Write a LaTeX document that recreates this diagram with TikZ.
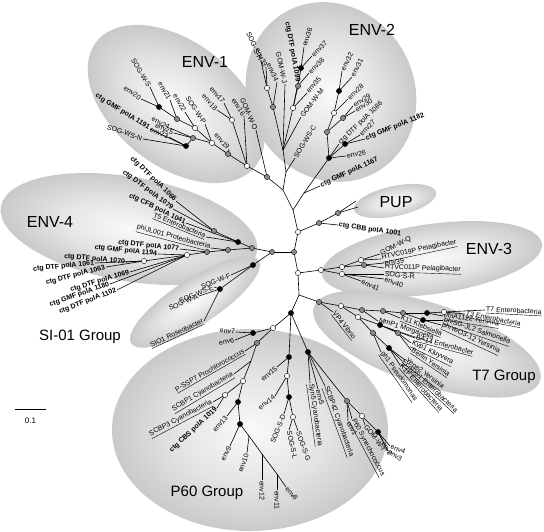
\documentclass[tikz,border=0pt]{standalone}
\usepackage{fontspec}
\setmainfont{Liberation Sans}
\pgfdeclareradialshading{blob}{\pgfpoint{0bp}{0bp}}{color(0bp)=(gray!4); color(14bp)=(gray!22); color(36bp)=(gray!62); color(50bp)=(gray!82); color(70bp)=(gray!82)}
\tikzset{
 br/.style={line width=0.6pt,draw=black},
 lbl/.style={font=\fontsize{7}{8}\selectfont,inner sep=0.8pt},
 wn/.style={circle,draw=black,line width=0.4pt,fill=white,inner sep=0pt,minimum size=5.2pt},
 gn/.style={wn,fill=gray!90},
 bn/.style={wn,fill=black},
 grp/.style={font=\fontsize{16}{18}\selectfont,inner sep=0pt},
 grpb/.style={font=\fontsize{15}{17}\selectfont,inner sep=0pt},
}
\newcommand\lf[6]{\coordinate (#2) at (#3);\draw[br] (#1) -- (#2);\node[lbl,anchor=#4,rotate=#5] (#2-t) at (#2) {#6};}
\newcommand\ed[2]{\draw[br] (#1) -- (#2);}
\newcommand\blob[5]{\begin{scope}[transform canvas={shift={(#1,#2)},rotate=#5}]\shade[shading=blob] (0,0) ellipse [x radius=#3, y radius=#4];\end{scope}}
\newcommand\mk[2]{\node[#1] (m-#2) at (#2) {};}
\begin{document}
\begin{tikzpicture}[x=1pt,y=-1pt]
\useasboundingbox (0,0) rectangle (544,531);
% ---------- group ellipses ----------
\blob{176}{104}{101}{62}{-38}
\blob{331}{92}{92}{83}{-60}
\blob{129}{229}{130}{52}{-10}
\blob{195}{302}{76}{23}{33}
\blob{395}{201}{42}{15}{12}
\blob{432}{259}{111}{35}{8}
\blob{427}{344}{119}{41}{-18}
\blob{250}{430}{138}{101}{0}
% ---------- group labels ----------
\node[grp] (lENV1) at (205,62) {ENV-1};
\node[grp] (lENV2) at (372,30) {ENV-2};
\node[grp] (lENV4) at (50,222) {ENV-4};
\node[grp] (lPUP) at (396,202) {PUP};
\node[grp] (lENV3) at (489,249) {ENV-3};
\node[grpb] (lT7) at (504,377) {T7 Group};
\node[grpb] (lP60) at (207,493) {P60 Group};
\node[grpb] (lSI) at (80,337) {SI-01 Group};
% ---------- backbone ----------
\coordinate (R0) at (293,210);
\coordinate (Ea) at (283,190);
\coordinate (Eb) at (304,193);
\coordinate (T1) at (298,232);
\coordinate (T2) at (294,252);
\coordinate (W298) at (298,273);
\coordinate (T3) at (299,295);
\coordinate (B291) at (291,313);
\coordinate (G319a) at (319,223);
\coordinate (G338) at (338,213);
\ed{R0}{Ea}\ed{R0}{Eb}\ed{R0}{T1}\ed{T1}{T2}\ed{T2}{W298}\ed{W298}{T3}\ed{T3}{B291}
\ed{T1}{G319a}\ed{G319a}{G338}
% ---------- ENV-1 ----------
\coordinate (G267) at (267,177);
\coordinate (W247) at (247,166);
\coordinate (W232) at (232,120);
\coordinate (G228) at (228,154);
\coordinate (W212) at (212,143);
\coordinate (W195) at (195,128);
\coordinate (G177) at (177,119);
\coordinate (B159) at (159,107);
\coordinate (G193) at (193,138);
\coordinate (B187) at (186,146);
\ed{Ea}{G267}\ed{G267}{W247}\ed{W247}{W232}\ed{W247}{G228}\ed{G228}{W212}
\ed{W212}{W195}\ed{W195}{G177}\ed{G177}{B159}\ed{W212}{G193}\ed{G193}{B187}
\lf{B159}{sogws}{150,87}{east}{-58}{SOG-W-S}
\lf{B159}{e20}{141,99}{east}{-35}{env20}
\lf{G177}{e21}{170,100}{east}{-60}{env21}
\lf{W195}{e22}{185,112}{east}{-60}{env22}
\lf{W212}{sogwp}{205,124}{east}{-57}{SOG-W-P}
\lf{W232}{e18}{217,110}{east}{-47}{env18}
\lf{W232}{e17}{224,103}{east}{-50}{env17}
\lf{W247}{e16}{244,116}{east}{-58}{env16}
\lf{G267}{gomwo}{256,130}{east}{-66}{GOM-W-O}
\lf{G228}{e19}{229,149}{east}{-48}{env19}
\lf{G193}{e24}{170,128}{east}{-28}{env24}
\lf{G193}{e25}{174,133}{east}{-24}{env25}
\lf{B187}{e23}{169,137}{east}{-22}{env23}
\lf{B187}{c1191}{150,129}{east}{-32}{\textbf{ctg GMF polA 1191}}
\lf{B187}{sogwsn}{143,139}{east}{-19}{SOG-WS-N}
% ---------- ENV-2 left ----------
\coordinate (L1) at (286,172);
\coordinate (L2) at (283,150);
\coordinate (G273) at (273,107);
\coordinate (W267) at (267,88);
\coordinate (W293) at (293,108);
\coordinate (G298) at (298,86);
\coordinate (B301) at (301,68);
\ed{Ea}{L1}\ed{L1}{L2}\ed{L2}{G273}\ed{G273}{W267}\ed{L2}{W293}\ed{W293}{G298}\ed{G298}{B301}
\lf{W267}{sogsh}{261,61}{east}{-66}{SOG-S-H}
\lf{W267}{e33}{266,67}{east}{-65}{env33}
\lf{G273}{e34}{277,82}{east}{-66}{env34}
\lf{L2}{gomwj}{285,84}{east}{-78}{GOM-W-J}
\lf{W293}{c1099}{298,83}{east}{-80}{\textbf{ctg DTF polA 1099}}
\lf{B301}{e36}{304,47}{west}{72}{env36}
\lf{B301}{e37}{312,56}{west}{45}{env37}
\lf{G298}{e38}{309,73}{west}{45}{env38}
\lf{W293}{e35}{307,93}{west}{50}{env35}
\lf{L2}{gomwm}{301,117}{west}{52}{GOM-W-M}
\lf{L1}{sogwsc}{295,158}{west}{59}{SOG-WS-C}
% ---------- ENV-2 right ----------
\coordinate (B329) at (329,158);
\coordinate (B345) at (345,144);
\coordinate (G327) at (327,132);
\coordinate (G343) at (343,118);
\coordinate (W334) at (334,113);
\coordinate (B339) at (339,91);
\ed{Eb}{B329}\ed{B329}{B345}\ed{B329}{G327}\ed{G327}{G343}\ed{G327}{W334}\ed{W334}{B339}
\lf{B339}{e32}{342,71}{west}{62}{env32}
\lf{B339}{e31}{352,77}{west}{62}{env31}
\lf{W334}{e28}{348,99}{west}{43}{env28}
\lf{G343}{e29}{353,106}{west}{33}{env29}
\lf{G343}{e30}{355,111}{west}{33}{env30}
\lf{B329}{c1086}{339,144}{west}{44}{ctg DTF polA 1086}
\lf{B345}{e27}{360,135}{west}{45}{env27}
\lf{B345}{c1182}{365,139}{west}{22}{\textbf{ctg GMF polA 1182}}
\lf{B329}{e26}{346,156}{west}{10}{env26}
\lf{Eb}{c1167}{320,186}{west}{25}{\textbf{ctg GMF polA 1167}}
% ---------- PUP and CBB ----------
\coordinate (pu1) at (356,201);
\coordinate (pu2) at (358,207);
\ed{G338}{pu1}\ed{G338}{pu2}
\lf{G319a}{c1001}{338,225}{west}{-8}{\textbf{ctg CBB polA 1001}}
% ---------- ENV-4 ----------
\coordinate (G272) at (272,252);
\coordinate (G252) at (252,248);
\coordinate (B238) at (238,242);
\coordinate (G214) at (214,231);
\coordinate (G228b) at (228,250);
\coordinate (G207) at (207,252);
\coordinate (W187) at (187,255);
\coordinate (W144) at (144,261);
\ed{T2}{G272}\ed{G272}{G252}\ed{G252}{B238}\ed{B238}{G214}\ed{G252}{G228b}\ed{G228b}{G207}\ed{G207}{W187}\ed{W187}{W144}
\lf{G214}{c1066}{176,201}{east}{-44}{\textbf{ctg DTF polA 1066}}
\lf{G214}{c1079}{173,209}{east}{-37}{\textbf{ctg DTF polA 1079}}
\lf{B238}{c1041}{186,223}{east}{-26}{\textbf{ctg CFB polA 1041}}
\lf{B238}{t5}{206,237}{east}{-22}{\underline{T5 Enterobacteria}}
\lf{G228b}{phijl}{211,248}{east}{-15}{\underline{phiJL001 Proteobacteria}}
\lf{G207}{c1077}{180,249}{east}{-6}{\textbf{ctg DTF polA 1077}}
\lf{W187}{c1194}{158,254}{east}{-6}{\textbf{ctg GMF polA 1194}}
\lf{W144}{c1070}{126,262}{east}{-5}{\textbf{ctg DTF polA 1070}}
\lf{W144}{c1061}{95,263}{east}{6}{\textbf{ctg DTF polA 1061}}
\lf{W144}{c1063}{106,267}{east}{15}{\textbf{ctg DTF polA 1063}}
\lf{W187}{c1069}{130,272}{east}{17}{\textbf{ctg DTF polA 1069}}
\lf{W187}{c1180}{110,284}{east}{19}{\textbf{ctg GMF polA 1180}}
\lf{W187}{c1102}{117,290}{east}{21}{\textbf{ctg DTF polA 1102}}
% ---------- SI-01 ----------
\coordinate (B253) at (253,265);
\coordinate (B220) at (220,289);
\ed{G272}{B253}\ed{B253}{B220}
\lf{B253}{sogwf}{231,275}{east}{22}{SOG-W-F}
\lf{B220}{sogwse}{214,287}{east}{22}{SOG-WS-E}
\lf{B220}{sogwa}{199,296}{east}{23}{SOG-W-A}
\lf{B220}{sio1}{204,321}{east}{25}{\underline{SIO1 Roseobacter}}
% ---------- ENV-3 ----------
\coordinate (W321) at (321,270);
\coordinate (W342) at (342,267);
\coordinate (W361) at (361,260);
\coordinate (G364) at (364,265);
\coordinate (W342b) at (342,274);
\ed{W298}{W321}\ed{W321}{W342}\ed{W342}{W361}\ed{W342}{G364}\ed{W321}{W342b}
\lf{W361}{gomwq}{380,254}{west}{26}{GOM-W-Q}
\lf{W361}{htvc19}{381,259}{west}{12}{\underline{HTVC019P Pelagibacter}}
\lf{G364}{e39}{384,263}{west}{6}{env39}
\lf{G364}{htvc11}{384,268}{west}{-2}{\underline{HTVC011P Pelagibacter}}
\lf{W342b}{sogsr}{384,274}{west}{-5}{SOG-S-R}
\lf{W342b}{e40}{384,279}{west}{-20}{env40}
\lf{W342b}{e41}{361,281}{west}{-25}{env41}
% ---------- T7 ----------
\coordinate (G319) at (319,302);
\coordinate (W341) at (341,306);
\coordinate (G362) at (362,310);
\coordinate (G383) at (383,311);
\coordinate (G403) at (403,313);
\coordinate (B427) at (427,313);
\coordinate (W444) at (444,312);
\coordinate (B423) at (423,320);
\coordinate (W358) at (358,317);
\coordinate (B380) at (380,325);
\coordinate (G398) at (398,333);
\coordinate (G373) at (373,333);
\coordinate (B389) at (389,348);
\ed{T3}{G319}\ed{G319}{W341}\ed{W341}{G362}\ed{G362}{G383}\ed{G383}{G403}\ed{G403}{B427}\ed{B427}{W444}
\ed{G403}{B423}\ed{W341}{W358}\ed{W358}{B380}\ed{B380}{G398}\ed{W358}{G373}\ed{G373}{B389}
\lf{W444}{t7}{485,310}{west}{-3}{\underline{T7 Enterobacteria}}
\lf{W444}{t3}{465,314}{west}{-11}{\underline{T3 Enterobacteria}}
\lf{B427}{phia}{443,316}{west}{-9}{\underline{phiA1122 Yersinia}}
\lf{B423}{phisg}{443,320}{west}{-19}{\underline{phiSG-JL2 Salmonella}}
\lf{B423}{phiye}{441,325}{west}{-25}{\underline{phiYeO3-12 Yersinia}}
\lf{G383}{k11}{400,318}{west}{-22}{\underline{K11 Klebsiella}}
\lf{G362}{mmp1}{378,321}{west}{-18}{\underline{MmP1 Morganella}}
\lf{B380}{ba14}{415,338}{west}{-15}{\underline{BA14 Enterobacter}}
\lf{G398}{kvp1}{411,343}{west}{-26}{\underline{Kvp1 Kluyvera}}
\lf{G398}{berlin}{411,350}{west}{-34}{\underline{Berlin Yersinia}}
\lf{B389}{yepe2}{405,360}{west}{-37}{\underline{Yepe2 Yersinia}}
\lf{B389}{ecods1}{402,361}{west}{-43}{\underline{EcoDS1 Enterobacteria}}
\lf{B389}{k1f}{400,365}{west}{-48}{\underline{K1F Enterobacteria}}
\lf{G373}{gh1}{381,352}{west}{-55}{\underline{gh1 Pseudomonas}}
\lf{G319}{vp4}{333,312}{west}{-52}{\underline{VP4 Vibrio}}
% ---------- P60 ----------
\coordinate (W273) at (273,328);
\coordinate (B253b) at (253,333);
\coordinate (G257) at (257,343);
\coordinate (U1) at (251,361);
\coordinate (W243) at (243,381);
\coordinate (W225) at (225,395);
\coordinate (B238b) at (238,402);
\coordinate (B239) at (240,424);
\coordinate (U2) at (249,436);
\coordinate (U3) at (262,454);
\coordinate (U4) at (277,474);
\coordinate (B289) at (289,357);
\coordinate (W287) at (287,376);
\coordinate (B289b) at (289,397);
\coordinate (W293b) at (293,417);
\coordinate (B308) at (308,352);
\coordinate (G347) at (347,401);
\coordinate (W362) at (362,416);
\coordinate (B378) at (378,432);
\ed{B291}{W273}\ed{W273}{B253b}\ed{W273}{G257}\ed{G257}{U1}\ed{U1}{W243}\ed{W243}{W225}\ed{W243}{B238b}
\ed{B238b}{B239}\ed{B239}{U2}\ed{U2}{U3}\ed{U3}{U4}
\ed{B291}{B289}\ed{B289}{W287}\ed{W287}{B289b}\ed{B289b}{W293b}
\ed{B291}{B308}\ed{B308}{G347}\ed{G347}{W362}\ed{W362}{B378}
\lf{B253b}{e7}{236,332}{east}{-5}{env7}
\lf{B253b}{e6}{235,340}{east}{10}{env6}
\lf{G257}{pssp7}{245,351}{east}{30}{\underline{P-SSP7 Prochlorococcus}}
\lf{U1}{scbp1}{234,374}{east}{31}{\underline{SCBP1 Cyanobacteria}}
\lf{W225}{scbp3}{213,402}{east}{28}{\underline{SCBP3 Cyanobacteria}}
\lf{W225}{c1019}{217,408}{east}{43}{\textbf{ctg CBS polA 1019}}
\lf{B238b}{e13}{227,416}{east}{50}{env13}
\lf{B239}{e9}{230,446}{east}{62}{env9}
\lf{U2}{e10}{247,453}{east}{70}{env10}
\lf{U3}{e12}{262,480}{west}{-90}{env12}
\lf{U4}{e11}{277,490}{west}{-90}{env11}
\lf{U4}{e8}{286,487}{west}{-50}{env8}
\lf{B289}{e15}{277,367}{east}{41}{env15}
\lf{W287}{e14}{275,396}{east}{38}{env14}
\lf{B289b}{sogsd}{284,414}{east}{68}{SOG-S-D}
\lf{W293b}{sogsl}{289,430}{west}{-78}{SOG-S-L}
\lf{W293b}{sogsg}{298,431}{west}{-70}{SOG-S-G}
\lf{B308}{syn5}{310,383}{west}{-82}{\underline{Syn5 Cyanobacteria}}
\lf{B308}{e5}{318,389}{west}{-75}{env5}
\lf{B308}{scbp42}{325,386}{west}{-70}{\underline{SCBP42 Cyanobacteria}}
\lf{G347}{e1}{348,421}{west}{-62}{env1}
\lf{G347}{p60s}{352,419}{west}{-62}{\underline{P60 Synechococcus}}
\lf{W362}{gomwi}{365,425}{west}{-52}{GOM-W-I}
\lf{B378}{e2}{383,441}{west}{-62}{env2}
\lf{B378}{e4}{390,446}{west}{-22}{env4}
\lf{B378}{e3}{388,451}{west}{-33}{env3}
% ---------- node markers ----------
\mk{wn}{T1}\mk{gn}{T2}\mk{wn}{W298}\mk{bn}{B291}\mk{gn}{G319a}\mk{gn}{G338}
\mk{gn}{G267}\mk{wn}{W247}\mk{wn}{W232}\mk{gn}{G228}\mk{wn}{W212}\mk{wn}{W195}\mk{gn}{G177}\mk{bn}{B159}\mk{gn}{G193}\mk{bn}{B187}
\mk{gn}{G273}\mk{wn}{W267}\mk{wn}{W293}\mk{gn}{G298}\mk{bn}{B301}
\mk{bn}{B329}\mk{bn}{B345}\mk{gn}{G327}\mk{gn}{G343}\mk{wn}{W334}\mk{bn}{B339}
\mk{gn}{G272}\mk{gn}{G252}\mk{bn}{B238}\mk{gn}{G214}\mk{gn}{G228b}\mk{gn}{G207}\mk{wn}{W187}\mk{wn}{W144}
\mk{bn}{B253}\mk{bn}{B220}
\mk{wn}{W321}\mk{wn}{W342}\mk{wn}{W361}\mk{gn}{G364}\mk{wn}{W342b}
\mk{gn}{G319}\mk{wn}{W341}\mk{gn}{G362}\mk{gn}{G383}\mk{gn}{G403}\mk{bn}{B427}\mk{wn}{W444}\mk{bn}{B423}\mk{wn}{W358}\mk{bn}{B380}\mk{gn}{G398}\mk{gn}{G373}\mk{bn}{B389}
\mk{wn}{W273}\mk{bn}{B253b}\mk{gn}{G257}\mk{wn}{W243}\mk{wn}{W225}\mk{bn}{B238b}\mk{bn}{B239}
\mk{bn}{B289}\mk{wn}{W287}\mk{bn}{B289b}\mk{wn}{W293b}\mk{bn}{B308}\mk{gn}{G347}\mk{wn}{W362}\mk{bn}{B378}
% ---------- scale bar ----------
\coordinate (sb1) at (15,409);
\coordinate (sb2) at (46,409);
\draw[br] (sb1) -- (sb2);
\node[font=\fontsize{8}{9}\selectfont] (sbl) at (30.5,421) {0.1};
\end{tikzpicture}
\end{document}
